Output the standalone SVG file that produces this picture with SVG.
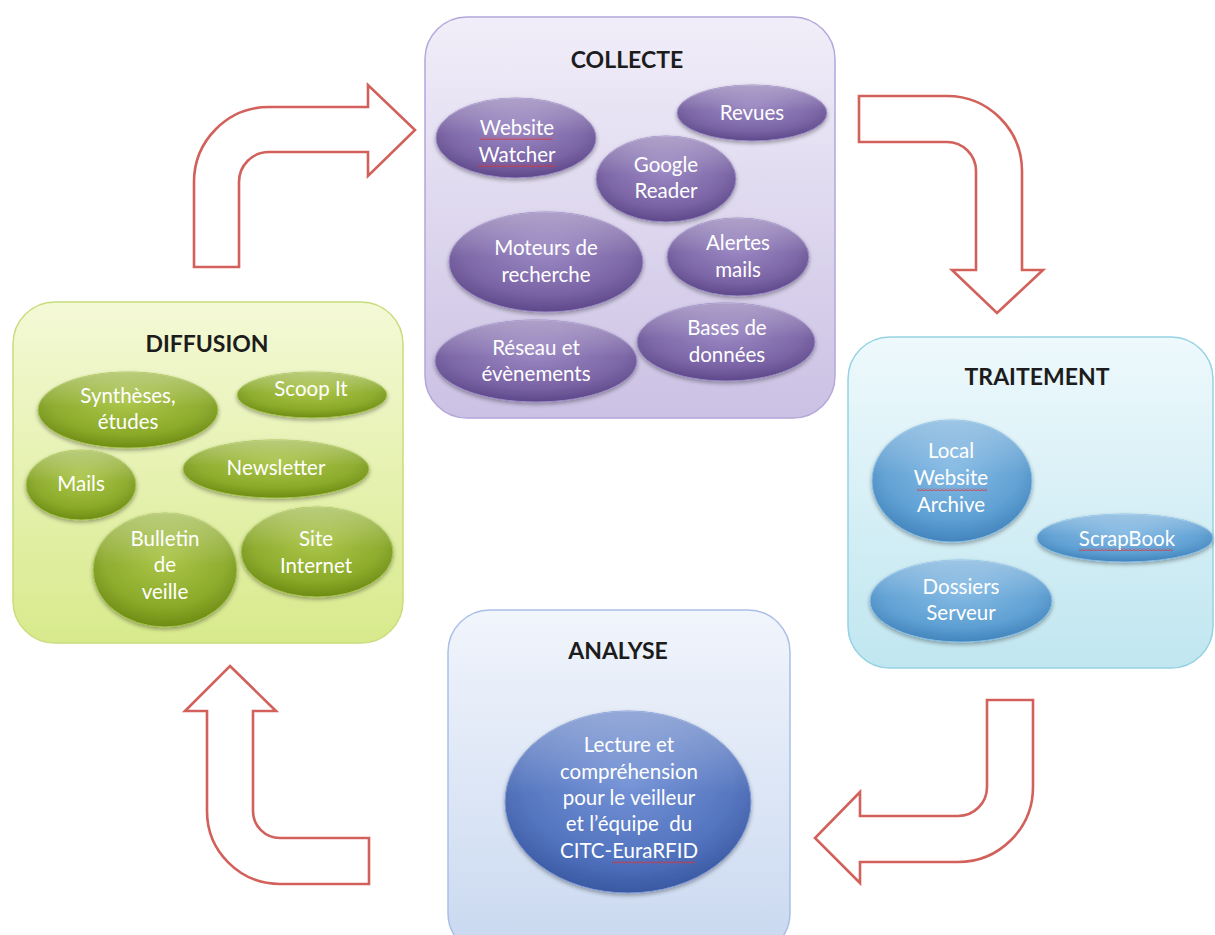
<svg xmlns="http://www.w3.org/2000/svg" width="1215" height="935" viewBox="0 0 1215 935">
<defs>
<style>
.title{font-family:Lato,"Liberation Sans",sans-serif;font-weight:bold;font-size:23px;fill:#1c1c1c;text-anchor:middle}
.lbl{font-family:Lato,"Liberation Sans",sans-serif;font-size:20.5px;fill:#ffffff;text-anchor:middle}
.arrow{fill:#ffffff;stroke:#d2605b;stroke-width:2.6;stroke-linejoin:miter}
.box{stroke-width:1.5}
.gloss{fill:url(#gloss)}
</style>
<linearGradient id="gCol" x1="0" y1="0" x2="0" y2="1"><stop offset="0" stop-color="#f1eef9"/><stop offset="1" stop-color="#cbc1e4"/></linearGradient>
<linearGradient id="gDif" x1="0" y1="0" x2="0" y2="1"><stop offset="0" stop-color="#f4f9d6"/><stop offset="1" stop-color="#d8ea8c"/></linearGradient>
<linearGradient id="gTra" x1="0" y1="0" x2="0" y2="1"><stop offset="0" stop-color="#eef9fc"/><stop offset="1" stop-color="#c0e6f0"/></linearGradient>
<linearGradient id="gAna" x1="0" y1="0" x2="0" y2="1"><stop offset="0" stop-color="#f1f5fc"/><stop offset="1" stop-color="#c9d8f0"/></linearGradient>
<radialGradient id="ePur" cx="0.5" cy="0.4" r="0.65"><stop offset="0" stop-color="#9480bf"/><stop offset="0.65" stop-color="#7760a3"/><stop offset="1" stop-color="#574283"/></radialGradient>
<radialGradient id="eGrn" cx="0.5" cy="0.4" r="0.65"><stop offset="0" stop-color="#a6c23e"/><stop offset="0.65" stop-color="#88a824"/><stop offset="1" stop-color="#66840f"/></radialGradient>
<radialGradient id="eBlu" cx="0.5" cy="0.4" r="0.65"><stop offset="0" stop-color="#7db6e2"/><stop offset="0.65" stop-color="#5a9dd2"/><stop offset="1" stop-color="#3b7db6"/></radialGradient>
<radialGradient id="eRoy" cx="0.5" cy="0.4" r="0.65"><stop offset="0" stop-color="#6a8bd3"/><stop offset="0.65" stop-color="#4d6fbd"/><stop offset="1" stop-color="#34529b"/></radialGradient>
<linearGradient id="gloss" x1="0" y1="0" x2="0" y2="1"><stop offset="0" stop-color="#ffffff" stop-opacity="0.4"/><stop offset="0.45" stop-color="#ffffff" stop-opacity="0.06"/><stop offset="1" stop-color="#ffffff" stop-opacity="0"/></linearGradient>
<filter id="sh" x="-20%" y="-20%" width="140%" height="150%"><feGaussianBlur in="SourceAlpha" stdDeviation="2"/><feOffset dy="2" result="b"/><feComponentTransfer><feFuncA type="linear" slope="0.35"/></feComponentTransfer><feMerge><feMergeNode/><feMergeNode in="SourceGraphic"/></feMerge></filter>
<pattern id="wavy" width="4" height="3" patternUnits="userSpaceOnUse"><path d="M0,2.2 L2,0.6 L4,2.2" fill="none" stroke="#e03030" stroke-width="0.9"/></pattern>
</defs>
<rect width="1215" height="935" fill="#ffffff"/>

<g id="connectors">
<path class="arrow" d="M194,267 L194,182 A75,75 0 0 1 269,107 L368,107 L368,85 L415,130 L368,176 L368,152 L269,152 A30,30 0 0 0 239,182 L239,267 Z"/>
<path class="arrow" d="M859,96 L947,96 A75,75 0 0 1 1022,171 L1022,270 L1043,270 L997,313 L952,270 L976,270 L976,171 A29,29 0 0 0 947,142 L859,142 Z"/>
<path class="arrow" d="M987,700 L1033,700 L1033,787 A75,75 0 0 1 958,862 L860,862 L860,883 L815,838 L860,792 L860,816 L958,816 A29,29 0 0 0 987,787 Z"/>
<path class="arrow" d="M230,666 L276,711 L253,711 L253,811 A27,27 0 0 0 280,838 L369,838 L369,884 L280,884 A73,73 0 0 1 207,811 L207,711 L185,711 Z"/>
</g>

<g id="collecte">
<rect class="box" x="425" y="17" width="410" height="401" rx="42" fill="url(#gCol)" stroke="#b4a7da"/>
<text class="title" x="627" y="68">COLLECTE</text>
<g filter="url(#sh)">
<ellipse cx="516" cy="138" rx="80" ry="40" fill="url(#ePur)" stroke="#9b8cc6"/>
<ellipse cx="752" cy="113" rx="75" ry="28" fill="url(#ePur)" stroke="#9b8cc6"/>
<ellipse cx="666" cy="179" rx="70" ry="43" fill="url(#ePur)" stroke="#9b8cc6"/>
<ellipse cx="546" cy="262" rx="97" ry="50" fill="url(#ePur)" stroke="#9b8cc6"/>
<ellipse cx="738" cy="257" rx="71" ry="39" fill="url(#ePur)" stroke="#9b8cc6"/>
<ellipse cx="726" cy="342" rx="89" ry="39" fill="url(#ePur)" stroke="#9b8cc6"/>
<ellipse cx="536" cy="361" rx="101" ry="41" fill="url(#ePur)" stroke="#9b8cc6"/>
</g>
<ellipse class="gloss" cx="516" cy="138" rx="80" ry="40"/>
<ellipse class="gloss" cx="752" cy="113" rx="75" ry="28"/>
<ellipse class="gloss" cx="666" cy="179" rx="70" ry="43"/>
<ellipse class="gloss" cx="546" cy="262" rx="97" ry="50"/>
<ellipse class="gloss" cx="738" cy="257" rx="71" ry="39"/>
<ellipse class="gloss" cx="726" cy="342" rx="89" ry="39"/>
<ellipse class="gloss" cx="536" cy="361" rx="101" ry="41"/>
<text class="lbl" x="517" y="135">Website</text>
<text class="lbl" x="517" y="162">Watcher</text>
<rect x="480" y="137" width="73" height="3" fill="url(#wavy)"/>
<rect x="478" y="164" width="77" height="3" fill="url(#wavy)"/>
<text class="lbl" x="752" y="120">Revues</text>
<text class="lbl" x="666" y="172">Google</text>
<text class="lbl" x="666" y="198">Reader</text>
<text class="lbl" x="546" y="255">Moteurs de</text>
<text class="lbl" x="546" y="282">recherche</text>
<text class="lbl" x="738" y="250">Alertes</text>
<text class="lbl" x="738" y="277">mails</text>
<text class="lbl" x="727" y="335">Bases de</text>
<text class="lbl" x="727" y="362">données</text>
<text class="lbl" x="536" y="355">Réseau et</text>
<text class="lbl" x="536" y="381">évènements</text>
</g>

<g id="diffusion">
<rect class="box" x="13" y="302" width="390" height="341" rx="42" fill="url(#gDif)" stroke="#c8dd7c"/>
<text class="title" x="207" y="352">DIFFUSION</text>
<g filter="url(#sh)">
<ellipse cx="128" cy="410" rx="90" ry="38" fill="url(#eGrn)" stroke="#a8c450"/>
<ellipse cx="312" cy="395" rx="75" ry="23" fill="url(#eGrn)" stroke="#a8c450"/>
<ellipse cx="81" cy="485" rx="55" ry="35" fill="url(#eGrn)" stroke="#a8c450"/>
<ellipse cx="276" cy="469" rx="93" ry="29" fill="url(#eGrn)" stroke="#a8c450"/>
<ellipse cx="165" cy="570" rx="72" ry="57" fill="url(#eGrn)" stroke="#a8c450"/>
<ellipse cx="317" cy="552" rx="76" ry="45" fill="url(#eGrn)" stroke="#a8c450"/>
</g>
<ellipse class="gloss" cx="128" cy="410" rx="90" ry="38"/>
<ellipse class="gloss" cx="312" cy="395" rx="75" ry="23"/>
<ellipse class="gloss" cx="81" cy="485" rx="55" ry="35"/>
<ellipse class="gloss" cx="276" cy="469" rx="93" ry="29"/>
<ellipse class="gloss" cx="165" cy="570" rx="72" ry="57"/>
<ellipse class="gloss" cx="317" cy="552" rx="76" ry="45"/>
<text class="lbl" x="128" y="403">Synthèses,</text>
<text class="lbl" x="128" y="429">études</text>
<text class="lbl" x="311" y="396">Scoop It</text>
<text class="lbl" x="81" y="491">Mails</text>
<text class="lbl" x="276" y="475">Newsletter</text>
<text class="lbl" x="165" y="546">Bulletin</text>
<text class="lbl" x="165" y="572">de</text>
<text class="lbl" x="165" y="599">veille</text>
<text class="lbl" x="316" y="546">Site</text>
<text class="lbl" x="316" y="573">Internet</text>
</g>

<g id="traitement">
<rect class="box" x="848" y="337" width="365" height="331" rx="42" fill="url(#gTra)" stroke="#95d2e3"/>
<text class="title" x="1037" y="385">TRAITEMENT</text>
<g filter="url(#sh)">
<ellipse cx="952" cy="481" rx="80" ry="61" fill="url(#eBlu)" stroke="#86bfe6"/>
<ellipse cx="1125" cy="538" rx="88" ry="24" fill="url(#eBlu)" stroke="#86bfe6"/>
<ellipse cx="961" cy="601" rx="91" ry="41" fill="url(#eBlu)" stroke="#86bfe6"/>
</g>
<ellipse class="gloss" cx="952" cy="481" rx="80" ry="61"/>
<ellipse class="gloss" cx="1125" cy="538" rx="88" ry="24"/>
<ellipse class="gloss" cx="961" cy="601" rx="91" ry="41"/>
<text class="lbl" x="951" y="458">Local</text>
<text class="lbl" x="951" y="485">Website</text>
<text class="lbl" x="951" y="512">Archive</text>
<rect x="917" y="488" width="70" height="3" fill="url(#wavy)"/>
<text class="lbl" x="1127" y="546">ScrapBook</text>
<rect x="1079" y="548" width="94" height="3" fill="url(#wavy)"/>
<text class="lbl" x="961" y="594">Dossiers</text>
<text class="lbl" x="961" y="620">Serveur</text>
</g>

<g id="analyse">
<rect class="box" x="448" y="610" width="342" height="345" rx="42" fill="url(#gAna)" stroke="#a9bfe6"/>
<text class="title" x="618" y="659">ANALYSE</text>
<ellipse cx="628" cy="802" rx="123" ry="91" fill="url(#eRoy)" stroke="#7f9bd8" filter="url(#sh)"/>
<ellipse class="gloss" cx="628" cy="802" rx="123" ry="91"/>
<text class="lbl" x="629" y="752">Lecture et</text>
<text class="lbl" x="629" y="779">compréhension</text>
<text class="lbl" x="629" y="805">pour le veilleur</text>
<text class="lbl" x="629" y="831" xml:space="preserve">et l’équipe  du</text>
<text class="lbl" x="629" y="858">CITC-EuraRFID</text>
<rect x="612" y="861" width="83" height="3" fill="url(#wavy)"/>
</g>
</svg>
